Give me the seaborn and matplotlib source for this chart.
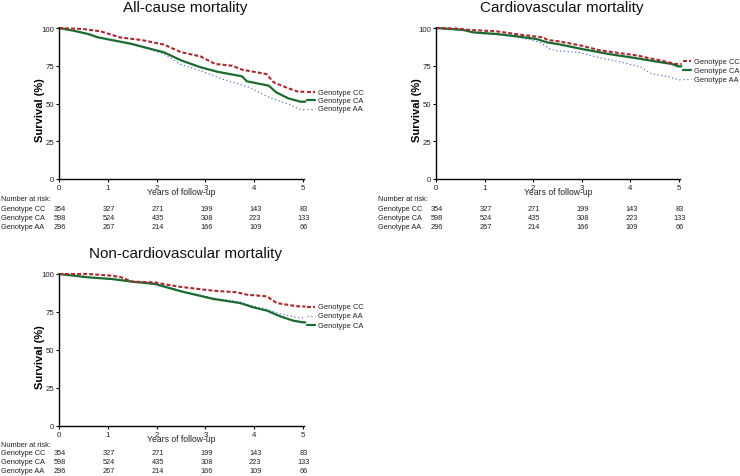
import matplotlib
matplotlib.use("Agg")
import matplotlib.pyplot as plt
import matplotlib.transforms as mtransforms
import seaborn as sns

# ---------------- data ----------------
genotypes = ["Genotype CC", "Genotype CA", "Genotype AA"]
risk_times = [0, 1, 2, 3, 4, 5]
risk_cc = [354, 327, 271, 199, 143, 83]
risk_ca = [598, 524, 435, 308, 223, 133]
risk_aa = [296, 267, 214, 166, 109, 66]

# All-cause mortality
all_cc_t = [0, 0.5, 0.85, 1.25, 1.7, 2.15, 2.5, 2.9, 3.2, 3.55, 3.75, 4.25, 4.4, 4.65, 4.9, 5.05]
all_cc_s = [100, 99.3, 97.8, 93.8, 92, 89, 84, 81.2, 76.2, 75, 72.4, 69.5, 64, 60.7, 57.8, 57.8]
all_ca_t = [0, 0.3, 0.6, 0.8, 1.15, 1.5, 1.8, 2.15, 2.5, 2.9, 3.25, 3.75, 3.85, 4.3, 4.45, 4.7, 4.95, 5.05]
all_ca_s = [100, 98.2, 96, 93.8, 91.6, 89.4, 86.8, 83.9, 78.6, 74, 71, 68, 64.7, 61.8, 57.4, 53.4, 51.2, 51.2]
all_aa_t = [0, 0.3, 0.6, 0.8, 1.15, 1.5, 1.8, 2.15, 2.5, 2.9, 3.35, 3.9, 4.3, 4.7, 4.95, 5.05]
all_aa_s = [100, 98.2, 96, 93.8, 91.6, 89, 86.5, 82.8, 75.8, 71.7, 66.2, 60.7, 54.1, 49.7, 45.9, 45.9]

# Cardiovascular mortality
cv_cc_t = [0, 0.43, 0.7, 1.25, 1.73, 2.2, 2.3, 2.5, 3.0, 3.34, 3.82, 4.16, 4.37, 4.64, 4.92, 5.05]
cv_cc_s = [100, 99.6, 98.7, 97.8, 95.6, 93.8, 92, 91.3, 88.3, 85.4, 83.2, 81.7, 80.1, 78.4, 76.2, 76.2]
cv_ca_t = [0, 0.56, 0.77, 1.25, 1.66, 2.07, 2.28, 2.5, 3.0, 3.55, 4.1, 4.51, 4.85, 4.98, 5.05]
cv_ca_s = [100, 98.7, 97.1, 96, 94.5, 92.7, 90.5, 89.4, 86.1, 82.8, 80.1, 77.9, 76.2, 74.6, 74.6]
cv_aa_t = [0, 0.56, 0.77, 1.25, 1.6, 1.87, 2.14, 2.35, 2.5, 2.93, 3.27, 3.82, 4.23, 4.44, 4.78, 5.0, 5.05]
cv_aa_s = [100, 98.5, 97, 95.8, 94.3, 92.7, 90.5, 86, 84.8, 83.9, 81, 77.3, 74, 69.5, 67.8, 65.6, 65.6]

# Non-cardiovascular mortality
ncv_cc_t = [0, 0.6, 1.08, 1.28, 1.49, 1.97, 2.17, 2.5, 3.16, 3.64, 3.85, 4.26, 4.46, 4.87, 5.05]
ncv_cc_s = [100, 100, 98.9, 97.8, 95, 94.5, 93.2, 91.5, 89, 88, 86.4, 85.3, 80.9, 78.8, 78.6]
ncv_ca_t = [0, 0.6, 1.08, 1.49, 1.97, 2.5, 3.16, 3.71, 3.98, 4.26, 4.53, 4.8, 5.0, 5.05]
ncv_ca_s = [100, 97.8, 96.7, 95, 93.4, 88.6, 83.6, 80.9, 78.1, 75.9, 72.2, 69.3, 68.2, 68.2]
ncv_aa_t = [0, 0.6, 1.08, 1.49, 1.97, 2.5, 3.16, 3.71, 3.98, 4.26, 4.53, 4.87, 5.05]
ncv_aa_s = [100, 97.9, 96.8, 95.1, 93.6, 88.9, 84.2, 81.5, 79, 76.8, 73.7, 71.5, 70.9]

# ---------------- style ----------------
sns.set_theme(style="ticks")
plt.rcParams["font.family"] = ["Liberation Sans", "DejaVu Sans"]

COL = {"Genotype CC": "#a82a30", "Genotype CA": "#1b6a32", "Genotype AA": "#5b7bd5"}
LW = {"Genotype CC": 1.5, "Genotype CA": 1.6, "Genotype AA": 0.9}
LS = {"Genotype CC": (0, (1.9, 1.0)), "Genotype CA": "-", "Genotype AA": (0, (1.0, 2.0))}

fig = plt.figure(figsize=(7.4, 4.77), dpi=100)
W, H = 740.0, 477.0

def make_axes(x0, x5, ytop, ybot):
    width_px = (x5 - x0) / 5.0 * 5.03
    return fig.add_axes([x0 / W, 1 - ybot / H, width_px / W, (ybot - ytop) / H])

ax1 = make_axes(59, 303, 29, 180)
ax2 = make_axes(436, 679, 29, 180)
ax3 = make_axes(59, 303, 275, 427)

# layout of the risk table: pixel offsets below each x axis
table_px_12 = [19.5, 29.5, 38.5, 47.5]
table_px_3 = [18.7, 26.5, 35.7, 44.7]

panels = [
    (ax1, "All-cause mortality",
     {"Genotype CC": (all_cc_t, all_cc_s), "Genotype CA": (all_ca_t, all_ca_s), "Genotype AA": (all_aa_t, all_aa_s)},
     [("Genotype CC", 57.6), ("Genotype CA", 52.3), ("Genotype AA", 46.4)], 0, table_px_12, 151),
    (ax2, "Cardiovascular mortality",
     {"Genotype CC": (cv_cc_t, cv_cc_s), "Genotype CA": (cv_ca_t, cv_ca_s), "Genotype AA": (cv_aa_t, cv_aa_s)},
     [("Genotype CC", 78.0), ("Genotype CA", 72.0), ("Genotype AA", 66.0)], 377, table_px_12, 151),
    (ax3, "Non-cardiovascular mortality",
     {"Genotype CC": (ncv_cc_t, ncv_cc_s), "Genotype CA": (ncv_ca_t, ncv_ca_s), "Genotype AA": (ncv_aa_t, ncv_aa_s)},
     [("Genotype CC", 78.3), ("Genotype AA", 72.4), ("Genotype CA", 66.4)], 0, table_px_3, 152),
]

risk = {"Genotype CC": risk_cc, "Genotype CA": risk_ca, "Genotype AA": risk_aa}

for ax, title, curves, legend_rows, rowlab_px, tab_px, ax_h in panels:
    for g in ["Genotype AA", "Genotype CA", "Genotype CC"]:
        t, s = curves[g]
        sns.lineplot(x=t, y=s, ax=ax, color=COL[g], linewidth=LW[g],
                     linestyle=LS[g], estimator=None, sort=False)
    for ln in ax.lines:
        ln.set_clip_on(False)

    ax.set_xlim(0, 5.03)
    ax.set_ylim(0, 100)
    ax.set_xticks(risk_times)
    ax.set_yticks([0, 25, 50, 75, 100])
    ax.tick_params(axis="both", labelsize=5.6, length=2.5, width=0.8, pad=0.8,
                   color="black", labelcolor="#222222")
    for sp in ["top", "right"]:
        ax.spines[sp].set_visible(False)
    for sp in ["left", "bottom"]:
        ax.spines[sp].set_linewidth(1.0)
        ax.spines[sp].set_color("black")

    ax.set_xlabel("Years of follow-up", fontsize=6.2, labelpad=-2.5, color="#222222")
    ax.set_ylabel("Survival (%)", fontsize=8, fontweight="bold", color="black")
    ax.yaxis.set_label_coords(-0.057, 0.46)
    ax.set_title(title, fontsize=11, pad=12.5, x=0.515, color="#111111")

    # in-plot legend with line samples
    for g, yv in legend_rows:
        ax.plot([5.08, 5.25], [yv, yv], color=COL[g], linewidth=LW[g],
                linestyle=LS[g], clip_on=False)
        ax.text(5.31, yv, g, fontsize=5.4, va="center", ha="left",
                color="#222222", clip_on=False)

    # number at risk table
    ax_x0_px = ax.get_position().x0 * W
    ax_w_px = ax.get_position().width * W
    rowlab_x = (rowlab_px + 1 - ax_x0_px) / ax_w_px
    trans = mtransforms.blended_transform_factory(ax.transData, ax.transAxes)
    ax.text(rowlab_x, -tab_px[0] / ax_h, "Number at risk:", transform=ax.transAxes,
            fontsize=5.3, va="center", ha="left", color="#222222")
    for i, g in enumerate(genotypes):
        yy = -tab_px[i + 1] / ax_h
        ax.text(rowlab_x, yy, g, transform=ax.transAxes, fontsize=5.3,
                va="center", ha="left", color="#222222")
        for tt, n in zip(risk_times, risk[g]):
            ax.text(tt + 0.02, yy, str(n), transform=trans, fontsize=5.3,
                    va="center", ha="center", color="#222222")

fig.savefig("out.png", dpi=100)
